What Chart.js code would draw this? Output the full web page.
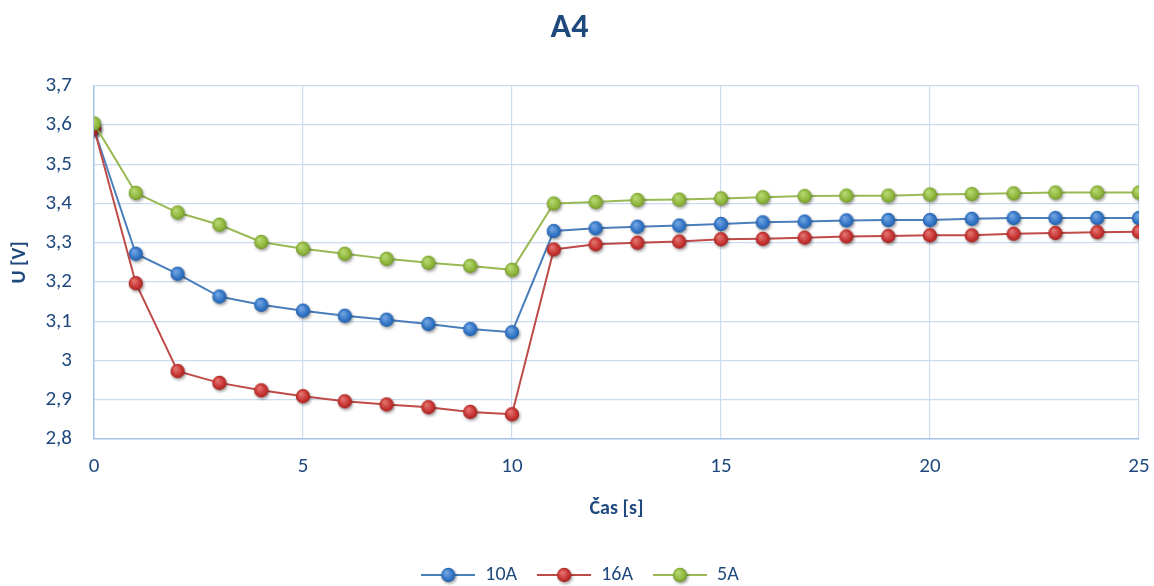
<!DOCTYPE html>
<html>
<head>
<meta charset="utf-8">
<script src="https://cdn.jsdelivr.net/npm/chart.js@4/dist/chart.umd.min.js"></script>
<style>
  html, body { margin: 0; padding: 0; background: #fff; }
  #wrap { width: 1154px; height: 586px; }
</style>
</head>
<body>
<div id="wrap"><canvas id="c" width="1154" height="586"></canvas></div>
<script>
// Time axis (seconds)
const times = [0,1,2,3,4,5,6,7,8,9,10,11,12,13,14,15,16,17,18,19,20,21,22,23,24,25];

// Cell voltage under each load current
const u10A = [3.590,3.272,3.221,3.163,3.142,3.127,3.114,3.104,3.093,3.080,3.072,
              3.330,3.337,3.341,3.344,3.348,3.352,3.354,3.357,3.358,3.358,3.361,3.363,3.363,3.363,3.363];
const u16A = [3.592,3.197,2.973,2.943,2.924,2.909,2.896,2.888,2.881,2.869,2.863,
              3.283,3.296,3.300,3.303,3.309,3.310,3.313,3.316,3.317,3.319,3.319,3.323,3.325,3.327,3.328];
const u5A  = [3.604,3.427,3.377,3.346,3.302,3.285,3.272,3.259,3.249,3.241,3.231,
              3.400,3.404,3.409,3.410,3.413,3.416,3.419,3.420,3.420,3.423,3.424,3.426,3.428,3.428,3.428];

const seriesNames = ['10A', '16A', '5A'];
const xTicks = [0, 5, 10, 15, 20, 25];
const yTicks = [2.8, 2.9, 3.0, 3.1, 3.2, 3.3, 3.4, 3.5, 3.6, 3.7];

const FONT = "Carlito, Calibri, 'Liberation Sans', 'Open Sans', sans-serif";
const TEXT = '#1F497D';

// Shaded round marker with a soft drop shadow
function marker(base, light, dark) {
  const s = 22, c = document.createElement('canvas');
  c.width = s; c.height = s;
  const g = c.getContext('2d');
  g.shadowColor = 'rgba(0,0,0,0.35)';
  g.shadowBlur = 3; g.shadowOffsetX = 1.2; g.shadowOffsetY = 1.8;
  const grad = g.createRadialGradient(s/2 - 2, s/2 - 2.5, 1, s/2, s/2, 7.5);
  grad.addColorStop(0, light);
  grad.addColorStop(0.7, base);
  grad.addColorStop(1, dark);
  g.beginPath(); g.arc(s/2, s/2, 7.2, 0, Math.PI * 2);
  g.fillStyle = grad; g.fill();
  return c;
}

// Legend swatch: line segment with the marker in the middle
function legendSwatch(lineColor, img) {
  const w = 54, h = 22, c = document.createElement('canvas');
  c.width = w; c.height = h;
  const g = c.getContext('2d');
  g.strokeStyle = lineColor; g.lineWidth = 2;
  g.beginPath(); g.moveTo(0, h/2); g.lineTo(w, h/2); g.stroke();
  g.drawImage(img, w/2 - img.width/2, h/2 - img.height/2);
  return c;
}

const styles = [
  { line: '#4A7EBB', img: marker('#2F72C4', '#6FA3E0', '#245C9E') },
  { line: '#BE4B48', img: marker('#C3302E', '#E2706C', '#9C2422') },
  { line: '#98B954', img: marker('#8DB53A', '#B6D670', '#6E9128') }
];
const values = [u10A, u16A, u5A];

const datasets = seriesNames.map((name, i) => ({
  label: name,
  data: times.map((t, k) => ({ x: t, y: values[i][k] })),
  borderColor: styles[i].line,
  backgroundColor: styles[i].line,
  borderWidth: 2,
  pointStyle: styles[i].img,
  pointRadius: 7,
  pointHoverRadius: 7,
  tension: 0,
  order: 3 - i
}));

// Centre the legend under the whole canvas rather than the padded layout box
const legendCentre = {
  id: 'legendCentre',
  afterLayout(chart) {
    const l = chart.legend;
    if (!l) return;
    const shift = (chart.width - (l.left + l.right)) / 2 + 3;
    l.left += shift; l.right += shift;
  }
};

new Chart(document.getElementById('c'), {
  type: 'line',
  data: { datasets },
  plugins: [legendCentre],
  options: {
    responsive: false,
    animation: false,
    events: [],
    layout: { padding: { left: 0, right: 15, top: 0, bottom: -9 } },
    scales: {
      x: {
        type: 'linear',
        min: 0, max: 25,
        afterBuildTicks: s => { s.ticks = xTicks.map(v => ({ value: v })); },
        ticks: { color: TEXT, font: { family: FONT, size: 21 }, padding: 15,
                 callback: v => String(v) },
        grid: { color: '#CCDCF0', lineWidth: 1.2, drawTicks: false },
        border: { color: '#A8C4E8', width: 1.5 },
        title: { display: true, text: 'Čas [s]', color: TEXT,
                 font: { family: FONT, size: 20, weight: 'bold' }, padding: { top: 0, bottom: 24 } },
        afterFit: s => { s.height = 106; s.paddingLeft = 0; s.paddingRight = 0; }
      },
      y: {
        type: 'linear',
        min: 2.8, max: 3.7,
        afterBuildTicks: s => { s.ticks = yTicks.map(v => ({ value: v })); },
        ticks: { color: TEXT, font: { family: FONT, size: 21 }, padding: 22,
                 callback: v => v.toFixed(1).replace('.0', '').replace('.', ',') },
        grid: { color: '#CCDCF0', lineWidth: 1.2, drawTicks: false },
        border: { color: '#A8C4E8', width: 1.5 },
        title: { display: true, text: 'U [V]', color: TEXT,
                 font: { family: FONT, size: 20, weight: 'bold' }, padding: { top: 8, bottom: 0 } },
        afterFit: s => { s.width = 94; }
      }
    },
    plugins: {
      title: {
        display: true, text: 'A4', color: TEXT,
        font: { family: FONT, size: 34, weight: 'bold' },
        padding: { top: 8, bottom: 37 }
      },
      legend: {
        position: 'bottom',
        labels: {
          color: TEXT,
          font: { family: FONT, size: 20 },
          usePointStyle: true,
          pointStyleWidth: 54,
          boxHeight: 20,
          padding: 20,
          generateLabels: chart => chart.data.datasets.map((d, i) => ({
            text: d.label,
            fontColor: TEXT,
            pointStyle: legendSwatch(styles[i].line, styles[i].img),
            strokeStyle: 'rgba(0,0,0,0)',
            fillStyle: 'rgba(0,0,0,0)',
            lineWidth: 0,
            hidden: false,
            datasetIndex: i
          }))
        }
      },
      tooltip: { enabled: false }
    }
  }
});
</script>
</body>
</html>
